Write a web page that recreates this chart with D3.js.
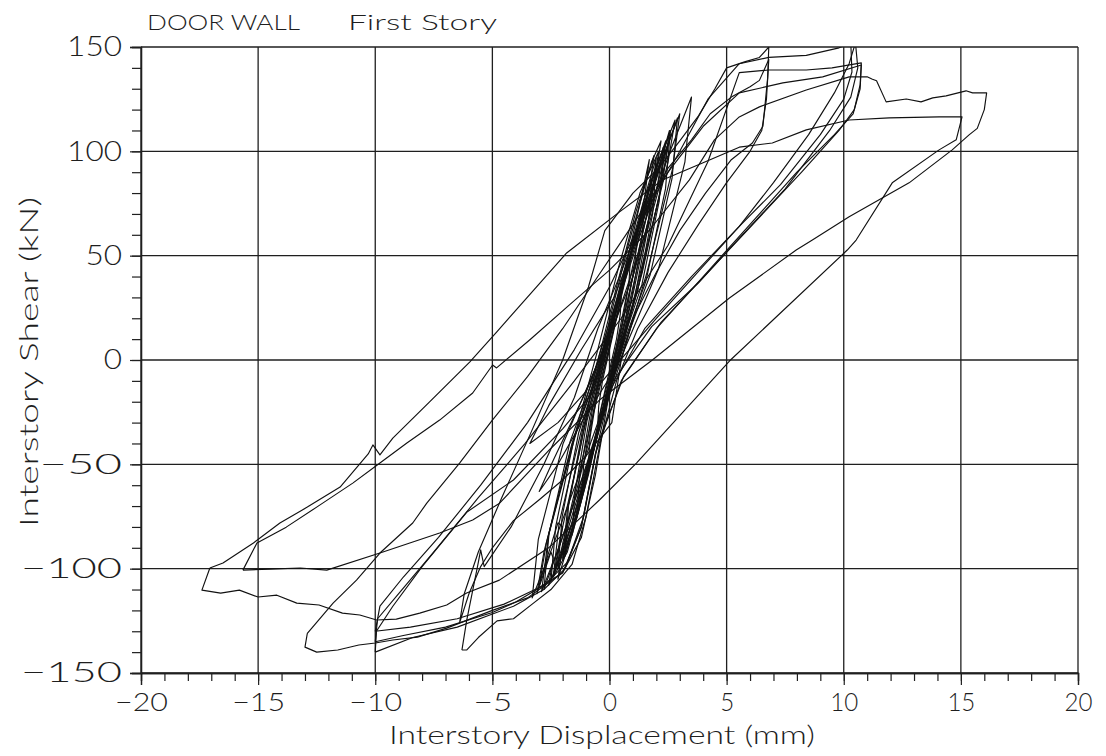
<!DOCTYPE html>
<html>
<head>
<meta charset="utf-8">
<script src="https://cdn.jsdelivr.net/npm/d3@7"></script>
<style>
  body { margin: 0; background: #fff; }
  text { font-family: Lato, Roboto, "DejaVu Sans", sans-serif; font-weight: 300; fill: #1e1e1e; }
</style>
</head>
<body>
<svg id="chart" width="1106" height="756"></svg>
<script>
// axis ticks
const xTicks = [-20, -15, -10, -5, 0, 5, 10, 15, 20];
const yTicks = [-150, -100, -50, 0, 50, 100, 150];

// small cycles in the core (mm, kN)
const core01 = [[-0.1,0],[0.18,14],[0.38,24],[0.5,30],[0.46,22],[0.3,10],[0.1,0],[-0.18,-14],[-0.38,-24],[-0.5,-30],[-0.46,-22],[-0.3,-10],[-0.1,0]];
const core02 = [[-0.15,0],[0.32,22],[0.68,40],[0.9,50],[0.83,37],[0.54,17],[0.15,0],[-0.32,-22],[-0.68,-40],[-0.9,-50],[-0.83,-37],[-0.54,-17],[-0.15,0]];
const core03 = [[-0.2,0],[0.42,29],[0.9,51],[1.2,64],[1.1,48],[0.72,22],[0.2,0],[-0.42,-30],[-0.9,-53],[-1.2,-66],[-1.1,-50],[-0.72,-23],[-0.2,0]];
const core04 = [[-0.22,0],[0.52,34],[1.12,61],[1.5,76],[1.38,57],[0.9,27],[0.22,0],[-0.49,-34],[-1.05,-61],[-1.4,-76],[-1.29,-57],[-0.84,-27],[-0.22,0]];
const core05 = [[-0.25,0],[0.63,39],[1.35,69],[1.8,86],[1.66,65],[1.08,30],[0.25,0],[-0.56,-38],[-1.2,-67],[-1.6,-84],[-1.47,-63],[-0.96,-29],[-0.25,0]];
const core06 = [[-0.28,0],[0.7,42],[1.5,75],[2.0,94],[1.84,70],[1.2,33],[0.28,0],[-0.66,-42],[-1.43,-75],[-1.9,-94],[-1.75,-70],[-1.14,-33],[-0.28,0]];
const core07 = [[-0.3,0],[0.8,46],[1.72,82],[2.3,102],[2.12,76],[1.38,36],[0.3,0],[-0.77,-45],[-1.65,-80],[-2.2,-100],[-2.02,-75],[-1.32,-35],[-0.3,0]];
const core08 = [[-0.35,0],[0.91,50],[1.95,88],[2.6,110],[2.39,82],[1.56,38],[0.35,0],[-0.88,-48],[-1.88,-85],[-2.5,-106],[-2.3,-80],[-1.5,-37],[-0.35,0]];
const core09 = [[-0.4,0],[1.02,52],[2.18,93],[2.9,116],[2.67,87],[1.74,41],[0.4,0],[-0.98,-50],[-2.1,-88],[-2.8,-110],[-2.58,-83],[-1.68,-39],[-0.4,0]];
const core10 = [[-0.45,0],[1.22,57],[2.62,101],[3.5,126],[3.22,95],[2.1,44],[0.45,0],[-1.16,-51],[-2.48,-91],[-3.3,-114],[-3.04,-86],[-1.98,-40],[-0.45,0]];
const core11 = [[-0.35,0],[0.55,40],[1.45,76],[2.0,97],[1.75,72],[1.05,34],[0.35,0],[-0.6,-40],[-1.45,-75],[-2.0,-96],[-1.8,-72],[-1.1,-34],[-0.35,0]];
const core12 = [[-0.4,0],[0.7,44],[1.7,83],[2.4,105],[2.15,80],[1.25,36],[0.4,0],[-0.7,-44],[-1.7,-82],[-2.4,-104],[-2.15,-78],[-1.25,-36],[-0.4,0]];
const core13 = [[-0.5,0],[0.9,50],[2.1,92],[3.0,118],[2.7,92],[1.6,42],[0.5,0],[-0.9,-48],[-2.1,-88],[-2.9,-111],[-2.6,-84],[-1.5,-38],[-0.5,0]];
const core14 = [[-0.3,0],[0.6,40],[1.3,75],[1.7,96],[1.5,78],[1.6,70],[2.1,92],[2.56,110],[2.3,88],[1.4,42],[0.35,0],[-0.8,-45],[-1.6,-78],[-2.3,-100],[-2.0,-80],[-2.2,-78],[-2.7,-96],[-3.0,-108],[-2.7,-88],[-1.6,-40],[-0.3,0]];
const core15 = [[-0.5,5],[0.4,45],[1.3,80],[2.1,100],[1.9,85],[1.0,40],[0.2,0],[-0.7,-42],[-1.6,-82],[-2.6,-108],[-2.4,-95],[-2.5,-92],[-3.1,-112],[-2.8,-92],[-1.7,-45],[-0.5,5]];
const core16 = [[-0.2,10],[0.8,55],[1.8,95],[2.2,105],[2.0,90],[1.2,50],[0.3,5],[-0.5,-35],[-1.3,-70],[-2.0,-95],[-1.8,-80],[-0.9,-40],[-0.2,10]];
const core17 = [[-0.6,-5],[0.3,35],[1.1,70],[1.9,98],[1.7,82],[0.8,35],[0.0,-10],[-0.9,-55],[-1.8,-92],[-2.4,-104],[-2.1,-85],[-1.3,-45],[-0.6,-5]];
const core18 = [[-0.3,-8],[0.5,30],[1.5,78],[2.8,115],[2.5,95],[1.5,50],[0.5,5],[-0.4,-30],[-1.4,-75],[-2.2,-105],[-2.0,-88],[-1.0,-40],[-0.3,-8]];
const saw01 = [[0.3,20],[-1.0,-15],[-2.2,-30],[-3.4,-40],[-2.6,-22],[-1.2,5],[0.2,30],[1.4,65],[2.2,95],[2.0,80],[1.0,40],[0.3,20]];
const saw02 = [[0.2,-5],[-1.2,-30],[-2.2,-50],[-3.0,-63],[-2.4,-48],[-1.0,-15],[0.3,20],[1.5,60],[2.6,108],[2.3,90],[1.2,45],[0.2,-5]];

// cycles to about 6.8 mm
const mid01 = [[-6.4,-126],[-6.2,-112],[-5.6,-92],[-4.6,-66],[-3.4,-36],[-2.0,0],[-0.9,35],[-0.2,62],[1.0,80],[2.1,92],[3.0,105],[3.8,117],[4.5,130],[5.0,140],[5.8,143],[6.4,145],[6.8,150],
  [6.75,135],[6.55,112],[6.1,104],[5.2,96],[4.1,80],[3.0,62],[2.0,42],[1.0,20],[0.5,0],[0.1,-30],[-1.0,-46],[-2.0,-57.5],[-3.0,-67],[-4.1,-77],[-5.0,-90],[-5.5,-99],[-6.0,-112],[-6.4,-126]];
const mid02 = [[-6.3,-139],[-6.1,-125],[-5.6,-97],[-5.5,-91],[-5.35,-99],[-4.2,-80],[-2.8,-50],[-1.5,-18],[-0.5,15],[0.5,42],[1.4,69],[2.5,92],[3.5,105.5],[4.3,118],[5.2,126],[6.0,131],[6.4,134],[6.8,144],
  [6.7,125],[6.5,110],[6.0,100],[5.0,85],[3.8,65],[2.5,42],[1.2,15],[0.3,-10],[-0.4,-40],[-1.0,-75],[-1.6,-98],[-2.5,-110],[-3.3,-117],[-4.1,-124],[-4.8,-125],[-5.6,-133],[-6.1,-139],[-6.3,-139]];

// cycles to about 10.5 mm
const ten01 = [[-10,-140],[-9.95,-130],[-9.25,-118],[-8,-99],[-6.1,-73],[-4.1,-57.5],[-2,-33],[0,-6],[2,20],[4,45],[5.54,64],[7,85],[8.5,108],[9.6,128],[10.23,142],[10.5,152],
  [10.6,140],[10.3,126],[9.4,110],[7.5,82],[5.1,53],[3.8,37],[1.8,16],[0.1,-11],[-0.6,-45],[-1.2,-80],[-1.9,-100],[-2.8,-110],[-4.1,-118],[-6.5,-128],[-8.4,-133],[-10,-140]];
const ten02 = [[-10,-130],[-9.8,-118],[-8.8,-104],[-7.3,-85],[-5.5,-60],[-3.5,-30],[-1.5,5],[0,35],[1.5,70],[3.0,100],[4.2,125],[5.54,142],[6.8,145],[8.4,146],[9.8,149.6],[10.3,152],
  [10.35,138],[10.0,125],[9.0,108],[7.3,84],[5.54,64],[3.5,40],[1.5,15],[0,-15],[-0.6,-55],[-1.2,-85],[-2.0,-102],[-3.0,-109],[-4.5,-117],[-6.5,-124],[-8.5,-128],[-10,-130]];
const ten03 = [[-12.9,-131],[-11.8,-116.5],[-10.8,-105.5],[-9.8,-92.5],[-8.4,-78.1],[-7.8,-68.6],[-6.4,-49.4],[-5.0,-28.8],[-3.5,-8],[-2.0,15],[-0.5,40],[1.0,65],[2.5,90],[4.0,112],[5.54,128],[7.4,132.8],[9.1,135.7],[10.75,141.4],
  [10.7,130],[10.4,118],[9.6,108],[8.0,90],[6.0,65],[4.0,40],[2.0,15],[0.5,-10],[-0.6,-45],[-1.2,-80],[-2.0,-102],[-3.5,-114],[-5.0,-120],[-6.95,-128.5],[-8.2,-132.8],[-9.25,-134.2],[-10,-135.6],[-10.7,-136.6],[-11.6,-139],[-12.5,-140],[-13,-137.6],[-12.9,-131]];
const ten04 = [[-10,-135],[-9.9,-124],[-9.0,-112],[-7.5,-92],[-5.6,-66],[-3.6,-40],[-1.5,-10],[0.5,20],[2.5,55],[4.2,95],[5.54,137.7],[6.8,139],[8.4,139],[9.5,140],[10.75,142.4],
  [10.7,132],[10.45,120],[9.8,110],[8.2,90],[6.2,66],[4.2,42],[2.2,18],[0.6,-8],[-0.5,-40],[-1.1,-75],[-1.8,-97],[-2.8,-108],[-4.0,-116],[-5.0,-121],[-7.0,-128],[-8.8,-132],[-10,-135]];

// the two largest cycles
const big01 = [[-15.65,-100.7],[-15.05,-87.7],[-13.8,-80.1],[-12.5,-70.5],[-10.96,-59],[-9.8,-49.4],[-8.65,-39.8],[-7.25,-28.8],[-5.84,-15.8],[-4.99,-2.4],[-4.82,-3.8],[-3.41,9.6],[-1.71,26.4],[0,43.1],[1.71,62.3],[3.41,86.3],[4.48,105.5],[5.54,116.5],[6.4,121.3],[8.4,129.4],[10.23,135.7],[11.0,135.7],[11.2,134.7],[11.4,133.8],[11.81,123.7],[12.67,125.1],[13.3,123.7],[13.8,125.6],[14.37,126.6],[15.22,129],[15.5,128],[16.1,128],
  [16.0,120],[15.7,111],[15.35,107.9],[14.63,100.7],[12.79,84.9],[10.23,68.6],[8.66,57.5],[7.97,52.7],[5.12,29.7],[1.83,0],[-0.43,-19.2],[-2.56,-43],[-4.69,-68.6],[-5.84,-76.7],[-7.25,-82.9],[-9.8,-92.5],[-12.07,-100.7],[-13.2,-99.7],[-14.5,-100.2],[-15.65,-100.7]];
const big02 = [[-17.06,-99.7],[-16.5,-97.3],[-15.2,-87.7],[-14.07,-78.1],[-12.9,-70.5],[-11.5,-60.9],[-10.3,-45],[-10.1,-40.7],[-9.8,-45.5],[-9.25,-37.4],[-7.68,-20.1],[-5.97,-1],[-4.82,13.4],[-1.83,51.3],[0.43,71],[2.26,86.3],[3.97,94.4],[5.54,102],[6.95,104],[8.4,110.3],[10.23,115],[11.94,116],[14.07,116.5],[15.05,116.5],
  [14.8,105.5],[14.07,100.7],[12.07,84.9],[10.53,57.5],[10.15,52.7],[5.12,-0.5],[1.15,-49.4],[-0.43,-67.1],[-2.6,-90],[-4.7,-105.5],[-6.1,-111.7],[-6.95,-117.4],[-8.1,-121.3],[-9.1,-124.2],[-9.94,-124.6],[-10.66,-122.2],[-11.4,-121.3],[-12.4,-117.4],[-13.35,-116.5],[-14.2,-112.7],[-15.0,-113.6],[-15.8,-110.3],[-16.6,-111.7],[-17.4,-110.3],[-17.06,-99.7]];

const cycles = [core01, core02, core03, core04, core05, core06, core07, core08, core09, core10,
  core11, core12, core13, core14, core15, core16, core17, core18, saw01, saw02,
  mid01, mid02, ten01, ten02, ten03, ten04, big01, big02];

const svg = d3.select("#chart");
const x = d3.scaleLinear().domain([-20, 20]).range([141, 1078]);
const y = d3.scaleLinear().domain([-150, 150]).range([673, 47]);

const fmt = (d) => (d < 0 ? "\u2212" + Math.abs(d) : String(d));
const ink = "#1f1f1f";

// grid
svg.append("g").selectAll("line").data(xTicks).join("line")
  .attr("x1", (d) => x(d)).attr("x2", (d) => x(d))
  .attr("y1", y(150)).attr("y2", y(-150))
  .attr("stroke", ink).attr("stroke-width", 1.3);
svg.append("g").selectAll("line").data(yTicks).join("line")
  .attr("x1", x(-20)).attr("x2", x(20))
  .attr("y1", (d) => y(d)).attr("y2", (d) => y(d))
  .attr("stroke", ink).attr("stroke-width", 1.3);

// minor + major ticks
const xMinor = d3.range(-20, 21, 1);
const yMinor = d3.range(-150, 151, 10);
svg.append("g").attr("transform", `translate(0,${y(-150)})`)
  .call(d3.axisBottom(x).tickValues(xMinor).tickSize(8).tickFormat(""));
const xMajorG = svg.append("g").attr("transform", `translate(0,${y(-150)})`)
  .call(d3.axisBottom(x).tickValues(xTicks).tickSize(12).tickPadding(8).tickFormat(fmt));
svg.append("g").attr("transform", `translate(${x(-20)},0)`)
  .call(d3.axisLeft(y).tickValues(yMinor).tickSize(9).tickFormat(""));
const yMajorG = svg.append("g").attr("transform", `translate(${x(-20)},0)`)
  .call(d3.axisLeft(y).tickValues(yTicks).tickSize(11).tickPadding(8).tickFormat(fmt));

svg.selectAll(".domain").attr("stroke", ink).attr("stroke-width", 1.3);
svg.selectAll(".tick line").attr("stroke", ink).attr("stroke-width", 1.2);
xMajorG.selectAll("text")
  .attr("font-size", 25).attr("fill", ink).attr("font-family", null).attr("font-weight", 300)
  .attr("textLength", (d) => String(Math.abs(d)).length * 14 + (d < 0 ? 25 : 0))
  .attr("lengthAdjust", "spacingAndGlyphs");
yMajorG.selectAll("text")
  .attr("font-size", 28).attr("fill", ink).attr("font-family", null).attr("font-weight", 300)
  .attr("textLength", (d) => String(Math.abs(d)).length * 18.3 + (d < 0 ? 46 : 0))
  .attr("lengthAdjust", "spacingAndGlyphs");

// data
svg.append("clipPath").attr("id", "plot").append("rect")
  .attr("x", x(-20)).attr("y", y(150)).attr("width", x(20) - x(-20)).attr("height", y(-150) - y(150));
const line = d3.line().x((d) => x(d[0])).y((d) => y(d[1]));
svg.append("g").attr("clip-path", "url(#plot)")
  .selectAll("path").data(cycles).join("path")
  .attr("d", line).attr("fill", "none")
  .attr("stroke", "#111").attr("stroke-width", 1.15).attr("stroke-linejoin", "round");

// labels
svg.append("text").attr("x", 147).attr("y", 30).attr("font-size", 22)
  .attr("textLength", 153).attr("lengthAdjust", "spacingAndGlyphs").text("DOOR WALL");
svg.append("text").attr("x", 348).attr("y", 30).attr("font-size", 22)
  .attr("textLength", 149).attr("lengthAdjust", "spacingAndGlyphs").text("First Story");
svg.append("text").attr("x", 602).attr("y", 744).attr("font-size", 26).attr("text-anchor", "middle")
  .attr("textLength", 426).attr("lengthAdjust", "spacingAndGlyphs").text("Interstory Displacement (mm)");
svg.append("text").attr("transform", "translate(38,362) rotate(-90)").attr("font-size", 26)
  .attr("text-anchor", "middle").attr("textLength", 330).attr("lengthAdjust", "spacingAndGlyphs")
  .text("Interstory Shear (kN)");
</script>
</body>
</html>
